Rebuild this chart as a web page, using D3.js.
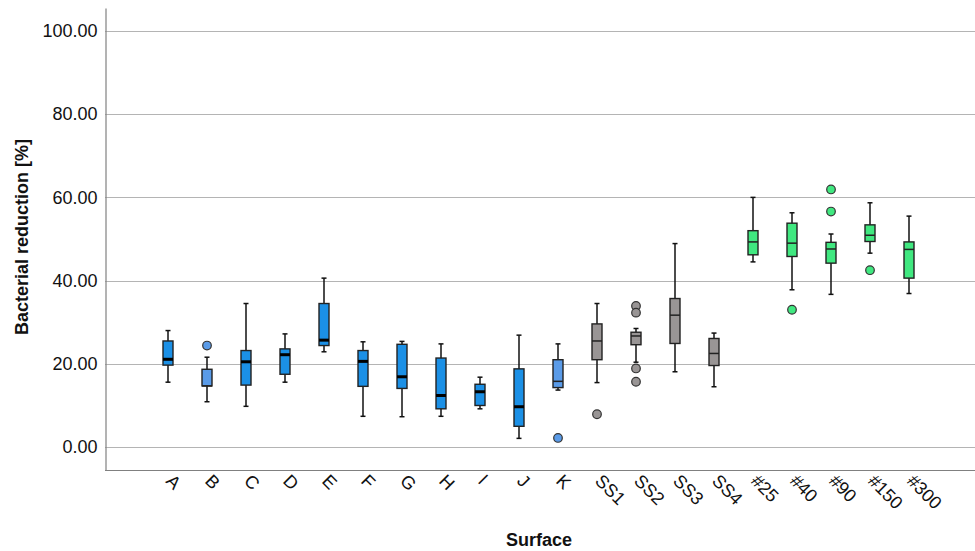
<!DOCTYPE html>
<html>
<head>
<meta charset="utf-8">
<script src="https://cdn.jsdelivr.net/npm/d3@7"></script>
<style>
  html, body { margin: 0; padding: 0; background: #fff; }
  svg text { font-family: 'Liberation Sans', Arial, sans-serif; fill: #111; }
</style>
</head>
<body>
<div id="chart"></div>
<script>
const categories = ['A', 'B', 'C', 'D', 'E', 'F', 'G', 'H', 'I', 'J', 'K',
  'SS1', 'SS2', 'SS3', 'SS4', '#25', '#40', '#90', '#150', '#300']
const groups = ['blue', 'light', 'blue', 'blue', 'blue', 'blue', 'blue', 'blue', 'blue', 'blue', 'light',
  'gray', 'gray', 'gray', 'gray', 'green', 'green', 'green', 'green', 'green']
const whiskerLow = [15.6, 10.9, 9.8, 15.6, 22.9, 7.4, 7.3, 7.4, 9.2, 2.1, 13.7,
  15.5, 20.4, 18.1, 14.5, 44.5, 37.8, 36.7, 46.6, 36.9]
const q1 = [19.7, 14.7, 14.9, 17.5, 24.4, 14.6, 14.1, 9.2, 10.0, 5.0, 14.3,
  21.0, 24.6, 24.9, 19.6, 46.2, 45.8, 44.2, 49.4, 40.6]
const median = [21.1, 14.7, 20.5, 22.2, 25.7, 20.6, 16.9, 12.4, 13.3, 9.7, 15.8,
  25.5, 26.7, 31.7, 22.5, 49.3, 49.0, 47.6, 50.9, 47.5]
const q3 = [25.5, 18.7, 23.2, 23.6, 34.5, 23.2, 24.7, 21.4, 15.1, 18.8, 21.0,
  29.6, 27.6, 35.7, 26.1, 52.0, 53.8, 49.2, 53.4, 49.3]
const whiskerHigh = [28.0, 21.6, 34.5, 27.2, 40.6, 25.3, 25.4, 24.8, 16.8, 26.9, 24.8,
  34.5, 28.5, 48.9, 27.4, 60.0, 56.3, 51.2, 58.7, 55.5]
const outliers = [[], [24.4], [], [], [], [], [], [], [], [], [2.2],
  [7.9], [33.9, 32.3, 18.9, 15.7], [], [], [], [33.0], [61.9, 56.6], [42.5], []]
const yTicks = [0, 20, 40, 60, 80, 100]

const fills = { blue: '#1b90e6', light: '#5a9be8', gray: '#999595', green: '#40e880' }

const width = 975, height = 551
const svg = d3.select('#chart').append('svg')
  .attr('width', width).attr('height', height)

const y = d3.scaleLinear().domain([-5.5, 105.5]).range([470, 8])
const x = d3.scaleBand().domain(categories).range([148.5, 928.5]).padding(0)
const cx = c => x(c) + x.bandwidth() / 2

// grid
svg.append('g').selectAll('line').data(yTicks).join('line')
  .attr('x1', 105).attr('x2', 975)
  .attr('y1', d => Math.round(y(d)) + 0.5).attr('y2', d => Math.round(y(d)) + 0.5)
  .attr('stroke', '#b4b4b4').attr('stroke-width', 1.2)

// y axis
const yAxis = svg.append('g').attr('transform', 'translate(105.5,0)')
  .call(d3.axisLeft(y).tickValues(yTicks).tickSize(0).tickPadding(8).tickFormat(d3.format('.2f')))
yAxis.select('.domain').attr('stroke', '#808080').attr('stroke-width', 1.2)
yAxis.selectAll('text').style('font-size', '18px').attr('fill', '#111')

// x axis
const xAxis = svg.append('g').attr('transform', 'translate(0,470.5)')
  .call(d3.axisBottom(x).tickSize(0).tickFormat(''))
xAxis.select('.domain').attr('d', 'M105,0H975').attr('stroke', '#808080').attr('stroke-width', 1.2)

svg.append('g').selectAll('text').data(categories).join('text')
  .attr('transform', d => `translate(${cx(d) + 6},${473}) rotate(45)`)
  .attr('dy', '0.71em')
  .style('font-size', '18px')
  .text(d => d)

// boxes
const boxW = 10, capW = 5
const box = svg.append('g').selectAll('g').data(categories).join('g')

box.append('line')
  .attr('x1', cx).attr('x2', cx)
  .attr('y1', (d, i) => y(whiskerHigh[i])).attr('y2', (d, i) => y(whiskerLow[i]))
  .attr('stroke', '#111').attr('stroke-width', 1.5)
box.append('line')
  .attr('x1', d => cx(d) - capW / 2).attr('x2', d => cx(d) + capW / 2)
  .attr('y1', (d, i) => y(whiskerHigh[i])).attr('y2', (d, i) => y(whiskerHigh[i]))
  .attr('stroke', '#111').attr('stroke-width', 1.5)
box.append('line')
  .attr('x1', d => cx(d) - capW / 2).attr('x2', d => cx(d) + capW / 2)
  .attr('y1', (d, i) => y(whiskerLow[i])).attr('y2', (d, i) => y(whiskerLow[i]))
  .attr('stroke', '#111').attr('stroke-width', 1.5)
box.append('rect')
  .attr('x', d => cx(d) - boxW / 2).attr('width', boxW)
  .attr('y', (d, i) => y(q3[i])).attr('height', (d, i) => y(q1[i]) - y(q3[i]))
  .attr('fill', (d, i) => fills[groups[i]])
  .attr('stroke', '#222').attr('stroke-width', 1.4)
box.append('line')
  .attr('x1', d => cx(d) - boxW / 2).attr('x2', d => cx(d) + boxW / 2)
  .attr('y1', (d, i) => y(median[i])).attr('y2', (d, i) => y(median[i]))
  .attr('stroke', (d, i) => groups[i] === 'blue' ? '#000' : '#222')
  .attr('stroke-width', (d, i) => groups[i] === 'blue' ? 3 : 1.5)

box.each(function (d, i) {
  d3.select(this).selectAll('circle').data(outliers[i]).join('circle')
    .attr('cx', cx(d)).attr('cy', v => y(v)).attr('r', 4.3)
    .attr('fill', fills[groups[i]])
    .attr('stroke', '#333').attr('stroke-width', 1.2)
})

// titles
svg.append('text')
  .attr('x', 539).attr('y', 546).attr('text-anchor', 'middle')
  .style('font-size', '18px').style('font-weight', 'bold')
  .text('Surface')
svg.append('text')
  .attr('transform', 'translate(28,237) rotate(-90)').attr('text-anchor', 'middle')
  .style('font-size', '18px').style('font-weight', 'bold')
  .text('Bacterial reduction [%]')
</script>
</body>
</html>
